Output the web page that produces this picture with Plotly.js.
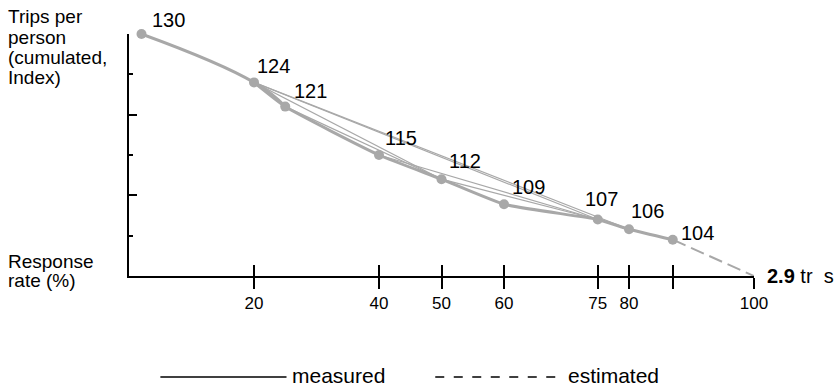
<!DOCTYPE html>
<html>
<head>
<meta charset="utf-8">
<script src="https://cdn.plot.ly/plotly-3.0.1.min.js"></script>
<style>html,body{margin:0;padding:0;background:#fff;}#chart{width:840px;height:386px;}</style>
</head>
<body>
<div id="chart"></div>
<script>
// ---- data ----
const responseRate = [2, 20, 25, 40, 50, 60, 75, 80, 87];
const tripsIndex   = [130, 124, 121, 115, 112, 108.9, 107, 105.8, 104.5];
const pointLabels  = ['130', '124', '121', '115', '112', '109', '107', '106', '104'];
const estimatedRate  = [87, 100];
const estimatedIndex = [104.5, 100];
// chords between measured points (index pairs)
const chordPairs = [[1, 6], [1, 7], [1, 4], [2, 4], [4, 6], [3, 6]];
const xTickVals = [20, 40, 50, 60, 75, 80, 87, 100];
const xTickText = ['20', '40', '50', '60', '75', '80', '', '100'];
const yTitleLines = ['Trips per', 'person', '(cumulated,', 'Index)'];
const xTitleLines = ['Response', 'rate (%)'];
const endText = '<b>2.9</b> tr  s';
const legendNames = ['measured', 'estimated'];

// ---- styles / positions ----
const GRAY = '#a8a8a8';
const FONT = 'Liberation Sans, Arial, Helvetica, sans-serif';
const labelOffsets = [[8, 14], [1, 16], [7, 15.5], [3.5, 17], [5, 18], [6, 17], [-15, 21], [0, 18.5], [6, 7]];
const yTitleCenters = [16, 37, 57.5, 77.5];   // px from top of page
const xTitleCenters = [261, 280.5];
const PLOT_TOP = 34, PLOT_LEFT = 128.6;

const traces = [];
chordPairs.forEach(p => {
  traces.push({
    x: [responseRate[p[0]], responseRate[p[1]]],
    y: [tripsIndex[p[0]], tripsIndex[p[1]]],
    mode: 'lines', line: {color: GRAY, width: 1.2},
    hoverinfo: 'skip', showlegend: false, cliponaxis: false
  });
});
traces.push({
  x: estimatedRate, y: estimatedIndex, xaxis: 'x2',
  mode: 'lines', line: {color: GRAY, width: 2, dash: '14px,6px'},
  showlegend: false, cliponaxis: false
});
// curved opening segment (first three measured points)
traces.push({
  x: responseRate.slice(0, 3), y: tripsIndex.slice(0, 3),
  mode: 'lines',
  line: {color: GRAY, width: 3, shape: 'spline', smoothing: 1.3},
  showlegend: false, cliponaxis: false
});
// remaining measured curve
traces.push({
  x: responseRate.slice(1), y: tripsIndex.slice(1),
  mode: 'lines',
  line: {color: GRAY, width: 3, shape: 'spline', smoothing: 0.5},
  showlegend: false, cliponaxis: false
});
traces.push({
  x: responseRate, y: tripsIndex,
  mode: 'markers',
  marker: {color: GRAY, size: 10},
  showlegend: false, cliponaxis: false
});

const annotations = pointLabels.map((t, i) => ({
  x: responseRate[i], y: tripsIndex[i], xref: 'x', yref: 'y',
  text: t, showarrow: false, xanchor: 'left', yanchor: 'middle',
  xshift: labelOffsets[i][0], yshift: labelOffsets[i][1],
  font: {family: FONT, size: 20, color: '#000'}
}));
yTitleLines.forEach((t, i) => annotations.push({
  xref: 'paper', yref: 'paper', x: 0, y: 1, xanchor: 'left', yanchor: 'middle',
  xshift: 6 - PLOT_LEFT, yshift: PLOT_TOP - yTitleCenters[i], showarrow: false,
  text: t, font: {family: FONT, size: 19, color: '#000'}
}));
xTitleLines.forEach((t, i) => annotations.push({
  xref: 'paper', yref: 'paper', x: 0, y: 1, xanchor: 'left', yanchor: 'middle',
  xshift: 6 - PLOT_LEFT, yshift: PLOT_TOP - xTitleCenters[i], showarrow: false,
  text: t, font: {family: FONT, size: 19, color: '#000'}
}));
annotations.push({
  xref: 'paper', yref: 'paper', x: 1, y: 0, xanchor: 'left', yanchor: 'middle',
  xshift: 11, yshift: 0, align: 'left', showarrow: false,
  text: endText, font: {family: FONT, size: 20, color: '#000'}
});
annotations.push({
  xref: 'paper', yref: 'paper', x: 0.257, y: -0.41, xanchor: 'left', yanchor: 'middle',
  showarrow: false, text: legendNames[0], font: {family: FONT, size: 21, color: '#000'}
});
annotations.push({
  xref: 'paper', yref: 'paper', x: 0.699, y: -0.41, xanchor: 'left', yanchor: 'middle',
  showarrow: false, text: legendNames[1], font: {family: FONT, size: 21, color: '#000'}
});

const shapes = [
  {type: 'line', xref: 'paper', yref: 'paper', x0: 0.0502, x1: 0.252, y0: -0.417, y1: -0.417,
   line: {color: '#000', width: 1.5}},
  {type: 'line', xref: 'paper', yref: 'paper', x0: 0.490, x1: 0.697, y0: -0.417, y1: -0.417,
   line: {color: '#000', width: 1.5, dash: '9px,9.5px'}}
];

const layout = {
  width: 840, height: 386,
  margin: {l: PLOT_LEFT, r: 86.4, t: PLOT_TOP, b: 110, pad: 0},
  paper_bgcolor: '#fff', plot_bgcolor: '#fff',
  showlegend: false,
  font: {family: FONT, color: '#000'},
  xaxis: {
    range: [0, 100], showgrid: false, zeroline: false,
    showline: true, linecolor: '#000', linewidth: 2,
    ticks: 'outside', ticklen: 11, tickwidth: 2, tickcolor: '#000',
    tickmode: 'array', tickvals: xTickVals, ticktext: xTickText,
    tickfont: {family: FONT, size: 17, color: '#000'}
  },
  xaxis2: {
    range: [0, 100], overlaying: 'x', anchor: 'y', side: 'bottom',
    showgrid: false, zeroline: false, showline: false,
    ticks: 'inside', ticklen: 11, tickwidth: 2, tickcolor: '#000',
    tickmode: 'array', tickvals: xTickVals, showticklabels: false
  },
  yaxis: {
    range: [100, 130], showgrid: false, zeroline: false,
    showline: true, linecolor: '#000', linewidth: 2,
    ticks: 'inside', ticklen: 8, tickwidth: 2, tickcolor: '#000',
    tick0: 100, dtick: 10, showticklabels: false,
    minor: {ticks: 'inside', ticklen: 4, tickwidth: 2, tickcolor: '#000', dtick: 5, tick0: 100, showgrid: false}
  },
  annotations: annotations,
  shapes: shapes
};

Plotly.newPlot('chart', traces, layout, {displayModeBar: false, staticPlot: true});
</script>
</body>
</html>
